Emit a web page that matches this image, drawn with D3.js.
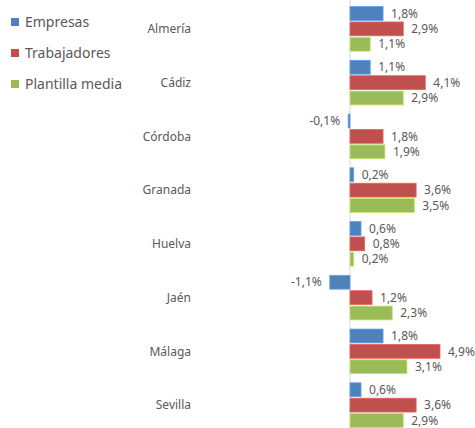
<!DOCTYPE html>
<html>
<head>
<meta charset="utf-8">
<script src="https://cdn.jsdelivr.net/npm/d3@7/dist/d3.min.js"></script>
<style>
  html, body { margin: 0; padding: 0; background: #fff; }
  svg { display: block; font-family: "Noto Sans", "Open Sans", sans-serif; }
</style>
</head>
<body>
<svg id="chart" width="475" height="428"></svg>
<script>
// Provinces (categories), top to bottom
const provincias = ["Almería", "Cádiz", "Córdoba", "Granada", "Huelva", "Jaén", "Málaga", "Sevilla"];

// Series names and values (% change)
const series = ["Empresas", "Trabajadores", "Plantilla media"];
const empresas      = [1.8, 1.1, -0.1, 0.2, 0.6, -1.1, 1.8, 0.6];
const trabajadores  = [2.9, 4.1, 1.8, 3.6, 0.8, 1.2, 4.9, 3.6];
const plantilla     = [1.1, 2.9, 1.9, 3.5, 0.2, 2.3, 3.1, 2.9];
const colores = ["#4f81bd", "#c0504d", "#9bbb59"];

const valores = [empresas, trabajadores, plantilla];
const fmt = v => v.toFixed(1).replace(".", ",") + "%";

const svg = d3.select("#chart");

const x = d3.scaleLinear().domain([0, 4.9]).range([350, 440]);
const y = d3.scaleBand().domain(provincias).range([2, 432]).paddingInner(0.17).paddingOuter(0.085);
const ySub = d3.scaleBand().domain(series).range([0, y.bandwidth()]).paddingInner(0.1);

// Vertical zero axis
svg.append("line")
  .attr("x1", x(0)).attr("x2", x(0))
  .attr("y1", 0).attr("y2", 428)
  .attr("stroke", "#d9d9d9").attr("stroke-width", 1);

// Category labels
svg.append("g").selectAll("text")
  .data(provincias).join("text")
  .attr("x", 191)
  .attr("y", d => y(d) + y.bandwidth() / 2)
  .attr("dy", "0.35em")
  .attr("text-anchor", "end")
  .attr("font-size", 12)
  .attr("fill", "#595959")
  .text(d => d);

// Bars and value labels
series.forEach((s, si) => {
  const g = svg.append("g");
  const data = provincias.map((p, i) => ({ p, v: valores[si][i] }));
  g.selectAll("rect").data(data).join("rect")
    .attr("x", d => Math.min(x(0), x(d.v)))
    .attr("y", d => y(d.p) + ySub(s))
    .attr("width", d => Math.max(1.5, Math.abs(x(d.v) - x(0))))
    .attr("height", ySub.bandwidth())
    .attr("fill", colores[si])
    .attr("stroke", d3.color(colores[si]).brighter(0.6))
    .attr("stroke-width", 0.8);
  g.selectAll("text").data(data).join("text")
    .attr("x", d => d.v >= 0 ? x(d.v) + 8 : x(d.v) - 8)
    .attr("y", d => y(d.p) + ySub(s) + ySub.bandwidth() / 2)
    .attr("dy", "0.35em")
    .attr("text-anchor", d => d.v >= 0 ? "start" : "end")
    .attr("font-size", 12)
    .attr("fill", "#595959")
    .text(d => fmt(d.v));
});

// Legend
const leg = svg.append("g");
series.forEach((s, i) => {
  const ly = 22 + i * 31;
  leg.append("rect")
    .attr("x", 11).attr("y", ly - 4)
    .attr("width", 8).attr("height", 8)
    .attr("fill", colores[i]);
  leg.append("text")
    .attr("x", 25).attr("y", ly)
    .attr("dy", "0.35em")
    .attr("font-size", 14)
    .attr("fill", "#595959")
    .text(s);
});
</script>
</body>
</html>
